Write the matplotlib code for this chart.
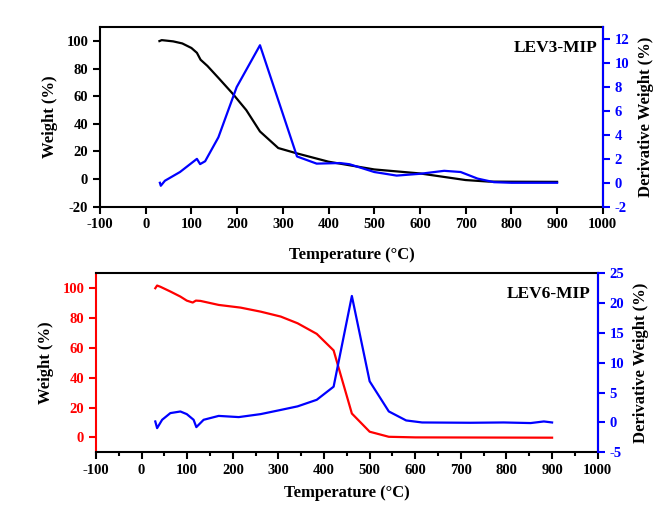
import matplotlib
matplotlib.use('Agg')
import matplotlib.pyplot as plt
from matplotlib.ticker import MultipleLocator

plt.rcParams['font.family'] = ['Liberation Serif', 'DejaVu Serif']
plt.rcParams['font.weight'] = 'bold'
plt.rcParams['axes.unicode_minus'] = False

# LEV3-MIP: weight loss curve
t3_w = [30, 35, 60, 80, 100, 112, 120, 135, 160, 190, 220, 250, 290, 330, 400, 500, 600, 700, 750, 800, 900]
w3 = [100, 100.7, 99.8, 98.3, 95, 91.5, 86.5, 82, 73, 62, 50, 34.5, 22.5, 18.7, 12.6, 7, 4.1, -0.7, -1.8, -1.9, -2]
# LEV3-MIP: derivative curve
t3_d = [31, 33, 42, 75, 112, 119, 130, 159, 199, 250, 331, 374, 425, 446, 500, 549, 600, 653, 689, 726, 762, 800, 900]
d3 = [0.0, -0.25, 0.17, 0.9, 2.0, 1.56, 1.8, 3.8, 8.0, 11.5, 2.2, 1.6, 1.65, 1.55, 0.9, 0.6, 0.75, 1.0, 0.9, 0.35, 0.05, 0.0, 0.0]

# LEV6-MIP: weight loss curve
t6_w = [30, 34, 41, 63, 85, 99, 112, 119, 129, 169, 217, 261, 305, 342, 384, 421, 461, 500, 542, 600, 900]
w6 = [100, 101.8, 101, 97.8, 94.4, 91.7, 90.4, 91.7, 91.5, 88.8, 87, 84.3, 81, 76.5, 69.4, 58.3, 16, 3.8, 0.4, 0, -0.2]
# LEV6-MIP: derivative curve
t6_d = [30, 34, 45, 63, 85, 99, 114, 120, 136, 169, 213, 261, 305, 342, 384, 421, 461, 500, 542, 580, 615, 721, 794, 853, 882, 900]
d6 = [0.17, -0.95, 0.45, 1.57, 1.84, 1.4, 0.45, -0.78, 0.45, 1.1, 0.9, 1.4, 2.1, 2.7, 3.8, 6.0, 21.2, 6.9, 1.85, 0.34, 0, -0.05, 0, -0.1, 0.17, 0]

BLUE = '#0000ff'
RED = '#ff0000'

fig = plt.figure(figsize=(6.69, 5.12), dpi=100)


def style_axes(ax, ax2, left_color, xpad):
    for sp in ax.spines.values():
        sp.set_linewidth(1.5)
    ax.spines['left'].set_color(left_color)
    ax2.spines['right'].set_color(BLUE)
    ax2.spines['right'].set_linewidth(1.5)
    for s in ['left', 'top', 'bottom']:
        ax2.spines[s].set_visible(False)
    ax.tick_params(axis='x', which='both', direction='out', width=1.5, top=False, labelsize=10.5)
    ax.tick_params(axis='x', which='major', length=5)
    ax.tick_params(axis='x', which='minor', length=3)
    ax.tick_params(axis='y', direction='out', length=5, width=1.5, colors=left_color, labelsize=10.5)
    ax2.tick_params(axis='y', direction='out', length=5, width=1.5, colors=BLUE, labelsize=10.5)
    ax.set_xlim(-100, 1000)
    ax.xaxis.set_major_locator(MultipleLocator(100))
    ax.set_xlabel('Temperature (°C)', fontsize=12, fontweight='bold', labelpad=xpad)
    ax.set_ylabel('Weight (%)', fontsize=12, fontweight='bold', labelpad=6)
    ax2.set_ylabel('Derivative Weight (%)', fontsize=12, fontweight='bold', labelpad=6)


# top panel
ax1 = fig.add_axes([0.1495, 0.5963, 0.7515, 0.3504])
ax1b = ax1.twinx()
ax1.plot(t3_w, w3, color='black', lw=1.6)
ax1b.plot(t3_d, d3, color=BLUE, lw=1.6)
ax1.set_ylim(-20, 110)
ax1.yaxis.set_major_locator(MultipleLocator(20))
ax1b.set_ylim(-2, 13)
ax1b.yaxis.set_major_locator(MultipleLocator(2))
style_axes(ax1, ax1b, 'black', 11)
ax1.text(0.99, 0.93, 'LEV3-MIP', transform=ax1.transAxes, ha='right', va='top',
         fontsize=12.5, fontweight='bold')

# bottom panel
ax2 = fig.add_axes([0.1435, 0.1166, 0.7499, 0.3496])
ax2b = ax2.twinx()
ax2.plot(t6_w, w6, color=RED, lw=1.6)
ax2b.plot(t6_d, d6, color=BLUE, lw=1.6)
ax2.set_ylim(-10, 110)
ax2.yaxis.set_major_locator(MultipleLocator(20))
ax2b.set_ylim(-5, 25)
ax2b.yaxis.set_major_locator(MultipleLocator(5))
ax2.xaxis.set_minor_locator(MultipleLocator(50))
style_axes(ax2, ax2b, RED, 6)
ax2.text(0.985, 0.93, 'LEV6-MIP', transform=ax2.transAxes, ha='right', va='top',
         fontsize=12.5, fontweight='bold')

fig.savefig('out.png', dpi=100)
